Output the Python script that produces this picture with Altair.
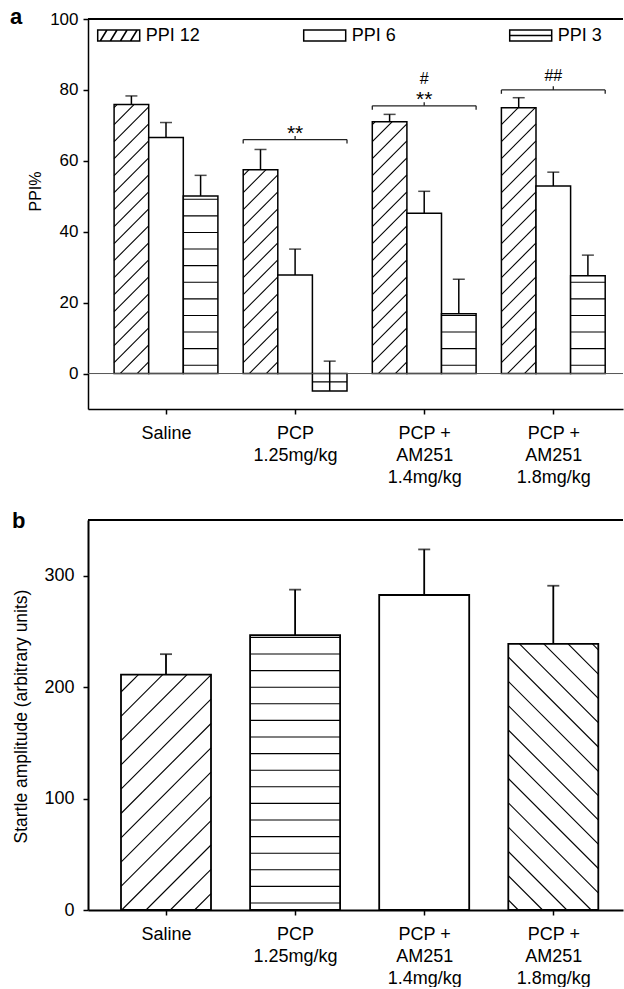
import math
import altair as alt
import pandas as pd

# ---------------- data ----------------
groups = ["Saline", "PCP 1.25mg/kg", "PCP + AM251 1.4mg/kg", "PCP + AM251 1.8mg/kg"]
group_lines = [["Saline"], ["PCP", "1.25mg/kg"], ["PCP +", "AM251", "1.4mg/kg"], ["PCP +", "AM251", "1.8mg/kg"]]
series = ["PPI 12", "PPI 6", "PPI 3"]
ppi12 = [75.9, 57.5, 71.0, 75.0]
ppi12_sem = [2.4, 5.7, 2.1, 2.8]
ppi6 = [66.6, 27.8, 45.2, 52.9]
ppi6_sem = [4.2, 7.3, 6.2, 3.9]
ppi3 = [50.1, -4.9, 16.9, 27.6]
ppi3_sem = [5.8, 8.4, 9.7, 5.8]
sig_group = [2, 3, 4]              # bracket over group (1-based)
sig_level = [66.0, 75.5, 80.0]     # bracket height (PPI%)
sig_text = ["**", "**", "#", "##"]
sig_text_group = [2, 3, 3, 4]
sig_text_base = [66.0, 75.5, 81.6, 82.4]
startle = [211.3, 246.6, 282.7, 238.8]
startle_sem = [18.3, 40.9, 40.9, 52.2]

# ---------------- layout / style ----------------
FONT = "Liberation Sans"
W = 535
HA = 390
HB = 390
KX = 129.1                      # px per group step
X_LO = 1 - 78 / KX
X_HI = X_LO + W / KX
YA = (-10, 100)
YB = (0, 350)
KYA = HA / (YA[1] - YA[0])
KYB = HB / (YB[1] - YB[0])
BW_A = 34.6 / KX
BW_B = 90 / KX


def diag(xl, xr, yb, yt, ky, spacing, offset, kind):
    w = (xr - xl) * KX
    h = (yt - yb) * ky
    segs = []
    if kind == "/":
        c = offset - spacing * math.ceil((offset + h) / spacing)
        while c < w:
            X0, X1 = max(0.0, c), min(w, h + c)
            if X1 - X0 > 0.3:
                segs.append((xl + X0 / KX, yb + (X0 - c) / ky, xl + X1 / KX, yb + (X1 - c) / ky))
            c += spacing
    else:
        c = offset - spacing * math.floor(offset / spacing)
        while c < w + h:
            X0, X1 = max(0.0, c - h), min(w, c)
            if X1 - X0 > 0.3:
                segs.append((xl + X0 / KX, yb + (c - X0) / ky, xl + X1 / KX, yb + (c - X1) / ky))
            c += spacing
    return segs


def horiz(xl, xr, value, ky, spacing, offset):
    segs = []
    sign = 1 if value >= 0 else -1
    d = offset
    while d < abs(value) * ky - 1:
        y = sign * d / ky
        segs.append((xl, y, xr, y))
        d += spacing
    return segs


# ---------------- panel a tables ----------------
vals = [ppi12, ppi6, ppi3]
sems = [ppi12_sem, ppi6_sem, ppi3_sem]
rows = []
hatch_a = []
for i, g in enumerate(groups):
    for j, s in enumerate(series):
        v = vals[j][i]
        xc = (i + 1) + (j - 1) * BW_A
        x0, x1 = xc - BW_A / 2, xc + BW_A / 2
        rows.append(dict(group=g, series=s, value=v, err=sems[j][i], top=v + sems[j][i],
                         xc=xc, x0=x0, x1=x1, zero=0.0, mid=v / 2))
        if j == 0:
            segs = diag(x0, x1, 0.0, v, KYA, 17.0, 6.0, "/")
        elif j == 2:
            segs = horiz(x0, x1, v, KYA, 16.6, 8.3)
        else:
            segs = []
        for (a, b, c, d) in segs:
            hatch_a.append(dict(x=a, y=b, x2=c, y2=d))
df_a = pd.DataFrame(rows)
df_hatch_a = pd.DataFrame(hatch_a)

brk = []
for gi, lev in zip(sig_group, sig_level):
    gl, gr = gi - 1.5 * BW_A, gi + 1.5 * BW_A
    brk.append(dict(x=gl, x2=gr, y=lev, y2=lev))
    brk.append(dict(x=gl, x2=gl, y=lev, y2=lev - 1.1))
    brk.append(dict(x=gr, x2=gr, y=lev, y2=lev - 1.1))
    brk.append(dict(x=gi, x2=gi, y=lev, y2=lev + 1.0))
df_brk = pd.DataFrame(brk)
df_sig = pd.DataFrame(dict(x=sig_text_group, y=sig_text_base, t=sig_text,
                           big=[t == "**" for t in sig_text]))

# ---------------- panel b tables ----------------
rows_b = []
hatch_b = []
for i, g in enumerate(groups):
    v = startle[i]
    xc = i + 1
    x0, x1 = xc - BW_B / 2, xc + BW_B / 2
    rows_b.append(dict(group=g, value=v, err=startle_sem[i], top=v + startle_sem[i],
                       xc=xc, x0=x0, x1=x1, zero=0.0))
    if i == 0:
        segs = diag(x0, x1, 0.0, v, KYB, 24.3, 0.7, "/")
    elif i == 1:
        segs = horiz(x0, x1, v, KYB, 16.6, 7.0)
    elif i == 3:
        segs = diag(x0, x1, 0.0, v, KYB, 24.3, 10.0, "\\")
    else:
        segs = []
    for (a, b, c, d) in segs:
        hatch_b.append(dict(x=a, y=b, x2=c, y2=d))
df_b = pd.DataFrame(rows_b)
df_hatch_b = pd.DataFrame(hatch_b)

# ---------------- axes ----------------
label_expr = ""
for k, lines in enumerate(group_lines[:-1]):
    arr = "[" + ",".join("'" + l + "'" for l in lines) + "]"
    label_expr += f"datum.value == {k + 1} ? {arr} : "
label_expr += "[" + ",".join("'" + l + "'" for l in group_lines[-1]) + "]"

X_AXIS = alt.Axis(values=[1, 2, 3, 4], labelExpr=label_expr, labelFontSize=18, labelLineHeight=22,
                  labelPadding=10, tickSize=5, labelFlush=False, labelOverlap=False,
                  labelBaseline="top", labelAlign="center", domainWidth=1.5, tickWidth=1.5,
                  grid=False, title=None, labelBound=False)
X_AXIS_B = alt.Axis(values=[1, 2, 3, 4], labelExpr=label_expr, labelFontSize=18, labelLineHeight=22,
                    labelPadding=10, tickSize=5, labelFlush=False, labelOverlap=False,
                    labelBaseline="top", labelAlign="center", domainWidth=2, tickWidth=1.5,
                    grid=False, title=None, labelBound=False)
Y_AXIS_A = alt.Axis(values=[0, 20, 40, 60, 80, 100], title="PPI%", titleFontSize=16,
                    titleFontWeight="normal", titleX=-53, titleY=172, titleAngle=270,
                    titleAlign="center", titleBaseline="middle", labelFontSize=17, labelPadding=5,
                    tickSize=5, tickWidth=1.5, domainWidth=1.5, grid=False)
Y_AXIS_B = alt.Axis(values=[0, 100, 200, 300], title="Startle amplitude (arbitrary units)",
                    titleFontSize=17.5, titleFontWeight="normal", titleX=-67, titleY=196,
                    titleAngle=270, titleAlign="center", titleBaseline="middle",
                    labelFontSize=18, labelPadding=9, tickSize=5, tickWidth=1.5,
                    domainWidth=2, grid=False)

XS = alt.Scale(domain=[X_LO, X_HI], nice=False, zero=False)


def xa(f, axis=X_AXIS):
    return alt.X(f"{f}:Q", scale=XS, axis=axis)


def ya(f):
    return alt.Y(f"{f}:Q", scale=alt.Scale(domain=list(YA), nice=False, zero=False), axis=Y_AXIS_A)


def yb(f):
    return alt.Y(f"{f}:Q", scale=alt.Scale(domain=list(YB), nice=False, zero=False), axis=Y_AXIS_B)


RECT = "M-1,-0.262H1V0.262H-1Z"
legend_paths = [
    RECT + " M-0.88,0.262L-0.56,-0.262 M-0.4,0.262L-0.08,-0.262 M0.08,0.262L0.4,-0.262 M0.56,0.262L0.88,-0.262",
    RECT,
    RECT + " M-1,0H1",
]

# ---------------- panel a ----------------
base_a = alt.Chart(df_a)
pts = base_a.mark_point(filled=False, color="black", strokeWidth=1.5, size=4).encode(
    x=xa("xc"), y=ya("mid"),
    shape=alt.Shape("series:N", scale=alt.Scale(domain=series, range=legend_paths),
                    legend=alt.Legend(orient="none", legendX=8.7, legendY=-5.5, direction="horizontal",
                                      columns=3, gridAlign="all", columnPadding=100, symbolSize=1764,
                                      symbolStrokeWidth=1.5, symbolStrokeColor="black",
                                      symbolOpacity=1, labelFontSize=18,
                                      labelFont=FONT, labelColor="black", labelOffset=5, title=None,
                                      padding=0, rowPadding=0)),
)
bars_a = base_a.mark_rect(fill="white", stroke="black", strokeWidth=1.5).encode(
    x=xa("x0"), x2="x1", y=ya("value"), y2="zero")
hatch_a_l = alt.Chart(df_hatch_a).mark_rule(color="black", strokeWidth=1.1).encode(
    x=xa("x"), x2="x2", y=ya("y"), y2="y2")
zero_a = alt.Chart(pd.DataFrame({"z": [0.0]})).mark_rule(color="#555555", strokeWidth=1).encode(
    y=ya("z"), x=alt.value(0), x2=alt.value(W))
err_a = base_a.mark_rule(color="black", strokeWidth=1.5).encode(x=xa("xc"), y=ya("value"), y2="top")
cap_a = base_a.mark_tick(color="black", orient="horizontal", size=12, thickness=1.5).encode(
    x=xa("xc"), y=ya("top"))
brk_a = alt.Chart(df_brk).mark_rule(color="#222222", strokeWidth=1.3).encode(
    x=xa("x"), x2="x2", y=ya("y"), y2="y2")
sig_a = alt.Chart(df_sig).mark_text(baseline="alphabetic", align="center", font=FONT, color="black").encode(
    x=xa("x"), y=ya("y"), text="t:N",
    size=alt.condition("datum.big", alt.value(21), alt.value(16)))
border_a = alt.Chart(pd.DataFrame({"z": [0]})).mark_rule(color="black", strokeWidth=2).encode(
    y=alt.value(0), x=alt.value(0), x2=alt.value(W))
letter_a = alt.Chart(pd.DataFrame({"t": ["a"]})).mark_text(
    align="left", baseline="alphabetic", fontSize=22, fontWeight="bold", font=FONT, color="black").encode(
    x=alt.value(-78), y=alt.value(5), text="t:N")

panel_a = alt.layer(pts, bars_a, hatch_a_l, zero_a, err_a, cap_a, brk_a, sig_a, border_a, letter_a).properties(
    width=W, height=HA)

# ---------------- panel b ----------------
base_b = alt.Chart(df_b)
bars_b = base_b.mark_rect(fill="white", stroke="black", strokeWidth=1.8).encode(
    x=xa("x0", X_AXIS_B), x2="x1", y=yb("value"), y2="zero")
hatch_b_l = alt.Chart(df_hatch_b).mark_rule(color="black", strokeWidth=1.1).encode(
    x=xa("x", X_AXIS_B), x2="x2", y=yb("y"), y2="y2")
err_b = base_b.mark_rule(color="black", strokeWidth=1.8).encode(x=xa("xc", X_AXIS_B), y=yb("value"), y2="top")
cap_b = base_b.mark_tick(color="black", orient="horizontal", size=12, thickness=1.8).encode(
    x=xa("xc", X_AXIS_B), y=yb("top"))
border_b = alt.Chart(pd.DataFrame({"z": [0]})).mark_rule(color="black", strokeWidth=2).encode(
    y=alt.value(0), x=alt.value(0), x2=alt.value(W))
letter_b = alt.Chart(pd.DataFrame({"t": ["b"]})).mark_text(
    align="left", baseline="alphabetic", fontSize=22, fontWeight="bold", font=FONT, color="black").encode(
    x=alt.value(-76), y=alt.value(8.3), text="t:N")

panel_b = alt.layer(bars_b, hatch_b_l, err_b, cap_b, border_b, letter_b).properties(width=W, height=HB)

chart = alt.vconcat(panel_a, panel_b, spacing=24).properties(
    padding={"left": 10, "top": 6, "right": 0, "bottom": 0}
).configure_view(stroke=None).configure_axis(
    labelFont=FONT, titleFont=FONT, labelColor="black", titleColor="black",
    domainColor="black", tickColor="black"
).configure_text(font=FONT)

chart.save("out.html", embed_options={"renderer": "svg", "actions": False})
